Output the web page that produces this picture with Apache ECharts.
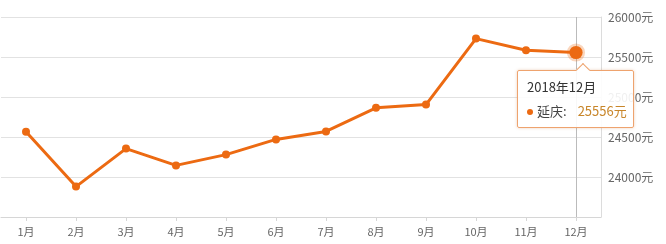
<!DOCTYPE html>
<html>
<head>
<meta charset="utf-8">
<script src="https://cdn.jsdelivr.net/npm/echarts@6/dist/echarts.min.js"></script>
<style>
html,body{margin:0;padding:0;background:#fff;}
#c{width:666px;height:244px;}
</style>
</head>
<body>
<div id="c"></div>
<script>
var categories = ['1月','2月','3月','4月','5月','6月','7月','8月','9月','10月','11月','12月'];
var values = [24565, 23880, 24355, 24145, 24280, 24470, 24570, 24865, 24905, 25730, 25585, 25556];
var seriesName = '延庆';
var tooltipTitle = '2018年12月';
var yTicks = [23500, 24000, 24500, 25000, 25500, 26000];

var orange = '#ec6a12';
var chart = echarts.init(document.getElementById('c'), null, {renderer: 'canvas'});
var font = '"Noto Sans CJK SC", "Noto Sans", sans-serif';

var seriesData = values.map(function (v, i) {
  if (i === values.length - 1) {
    return {
      value: v,
      symbolSize: 12,
      itemStyle: {color: orange, borderColor: 'rgba(236,106,18,0.28)', borderWidth: 5}
    };
  }
  return v;
});

chart.setOption({
  animation: false,
  grid: {left: 1, right: 65, top: 17, bottom: 27},
  tooltip: {
    trigger: 'axis',
    alwaysShowContent: true,
    transitionDuration: 0,
    showDelay: 0,
    backgroundColor: 'rgba(255,255,255,0.9)',
    borderColor: '#eea36e',
    borderWidth: 1,
    padding: [4, 9, 4, 9],
    extraCssText: 'border-radius:2px;box-shadow:0 0 3px rgba(200,120,60,0.35);overflow:visible;',
    position: function () { return [517, 70]; },
    axisPointer: {type: 'line', z: 0, lineStyle: {color: '#bbb', width: 1, type: 'solid'}},
    formatter: function (params) {
      var p = params[0];
      return '<div style="position:relative;font-family:' + font.replace(/"/g, "'") + ';font-size:13px;line-height:24px;color:#333;width:97px;">' +
        '<div style="position:absolute;left:51px;top:-10px;width:9px;height:9px;background:#fff;border-left:1px solid #eea36e;border-top:1px solid #eea36e;transform:rotate(45deg);"></div>' +
        '<div>' + tooltipTitle + '</div>' +
        '<div style="white-space:nowrap;"><span style="display:inline-block;width:6px;height:6px;border-radius:3px;background:' + orange + ';margin-right:4px;vertical-align:middle;"></span>' +
        '<span style="color:#444;">' + seriesName + ':</span>' +
        '<span style="color:#c8862a;margin-left:11px;">' + p.value + '元</span></div></div>';
    }
  },
  xAxis: {
    type: 'category',
    data: categories,
    boundaryGap: true,
    axisLine: {show: true, lineStyle: {color: '#d6d6d6', width: 1}},
    axisTick: {show: true, alignWithLabel: true, length: 4, lineStyle: {color: '#d6d6d6'}},
    axisLabel: {color: '#666', fontSize: 11, fontFamily: font, margin: 9},
    splitLine: {show: false}
  },
  yAxis: {
    type: 'value',
    position: 'right',
    min: yTicks[0],
    max: yTicks[yTicks.length - 1],
    interval: 500,
    axisLine: {show: true, lineStyle: {color: '#dcdcdc', width: 1}},
    axisTick: {show: false},
    axisLabel: {
      color: '#666', fontSize: 12, fontFamily: font, margin: 7,
      formatter: function (v) { return v === yTicks[0] ? '' : v + '元'; }
    },
    splitLine: {show: true, lineStyle: {color: '#e2e2e2', width: 1}}
  },
  series: [{
    name: seriesName,
    type: 'line',
    z: 5,
    data: seriesData,
    symbol: 'circle',
    symbolSize: 8,
    showSymbol: true,
    lineStyle: {color: orange, width: 3},
    itemStyle: {color: orange},
    emphasis: {disabled: true}
  }]
});

chart.dispatchAction({type: 'showTip', seriesIndex: 0, dataIndex: 11});
</script>
</body>
</html>
